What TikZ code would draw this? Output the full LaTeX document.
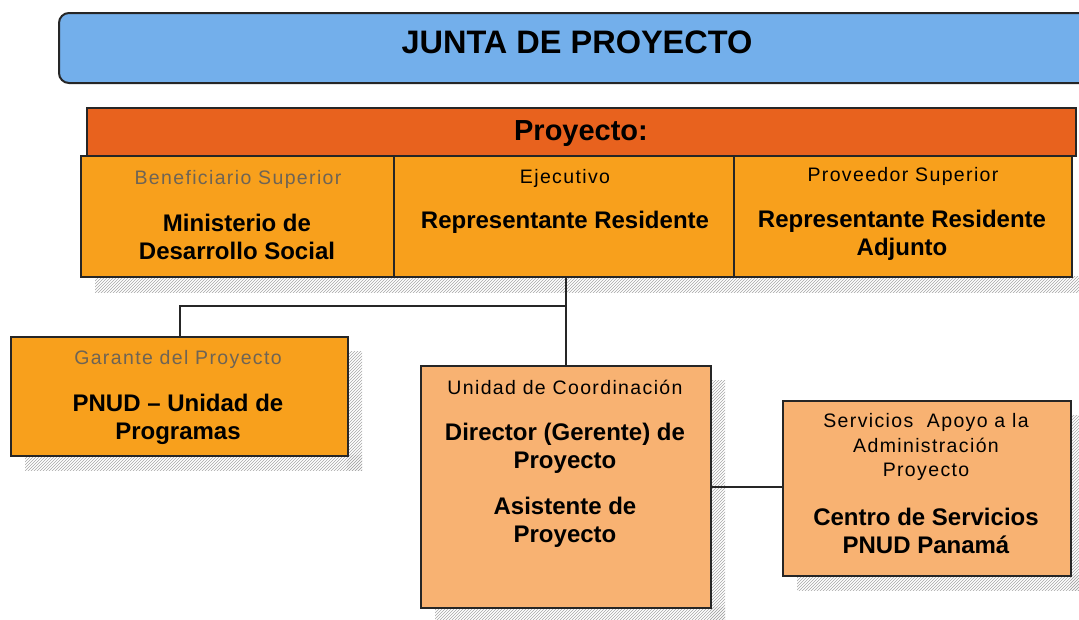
\documentclass[tikz,border=0pt]{standalone}
\usepackage{fontspec}
\setmainfont{Liberation Sans}
\usetikzlibrary{positioning, patterns}
\definecolor{juntablue}{RGB}{115,175,235}
\definecolor{proyred}{RGB}{232,98,30}
\definecolor{boxorange}{RGB}{248,160,28}
\definecolor{boxlight}{RGB}{248,178,114}
\definecolor{lblgray}{RGB}{110,100,85}
\tikzset{
  box/.style={rectangle, draw=black!85, line width=2pt, anchor=north west, inner sep=0pt},
  shade box/.style={pattern=north east lines, pattern color=black!35, draw=none},
  lbl/.style={font=\fontsize{19.5}{24.5}\selectfont\addfontfeature{LetterSpace=7}, align=center},
  strong/.style={font=\fontsize{24}{28}\selectfont\bfseries, align=center},
  link/.style={draw=black!85, line width=2pt}
}

\begin{document}
\begin{tikzpicture}[x=1pt, y=-1pt]
    \useasboundingbox (0,0) rectangle (1079,619);
    \clip (0,0) rectangle (1079,619);
    % shadows
    \fill[shade box] (95,276) rectangle (1090,292);
    \fill[shade box] (347,351) rectangle (362,470);
    \fill[shade box] (25,455) rectangle (362,470);
    \fill[shade box] (710,380) rectangle (725,625);
    \fill[shade box] (435,607) rectangle (725,625);
    \fill[shade box] (1070,415) rectangle (1090,590);
    \fill[shade box] (797,575) rectangle (1090,590);
    % board
    \node (junta) at (58,12) [box, fill=juntablue, rounded corners=10pt, minimum width=1060pt, minimum height=70pt] {};
    \node (juntatxt) at (577,42) [font=\fontsize{32.5}{32}\selectfont\bfseries] {JUNTA DE PROYECTO};
    \node (proyecto) at (86,107) [box, fill=proyred, minimum width=989pt, minimum height=48pt] {};
    \node (proytxt) at (581,134) [font=\fontsize{29}{29}\selectfont\bfseries] {Proyecto:};
    % top row
    \node (benef) at (80,155) [box, fill=boxorange, minimum width=313pt, minimum height=121pt] {};
    \node (ejec)  at (393,155) [box, fill=boxorange, minimum width=340pt, minimum height=121pt] {};
    \node (prov)  at (733,155) [box, fill=boxorange, minimum width=338pt, minimum height=121pt] {};
    \node (benefl) at (238,179) [lbl, text=lblgray] {Beneficiario Superior};
    \node (benefn) at (237,237) [strong] {Ministerio de\\Desarrollo Social};
    \node (ejecl)  at (565,178) [lbl] {Ejecutivo};
    \node (ejecn)  at (565,222) [strong] {Representante Residente};
    \node (provl)  at (903,176) [lbl] {Proveedor Superior};
    \node (provn)  at (902,235) [strong] {Representante Residente\\Adjunto};
    % lower boxes
    \node (garante)   at (10,336)  [box, fill=boxorange, minimum width=337pt, minimum height=119pt] {};
    \node (unidad)    at (420,365) [box, fill=boxlight, minimum width=290pt, minimum height=242pt] {};
    \node (servicios) at (782,400) [box, fill=boxlight, minimum width=288pt, minimum height=175pt] {};
    \node (garantel) at (178,359) [lbl, text=lblgray] {Garante del Proyecto};
    \node (garanten) at (178,419) [strong] {PNUD -- Unidad de\\Programas};
    \node (unidadl)  at (565,387) [lbl] {Unidad de Coordinación};
    \node (director) at (565,448) [strong] {Director (Gerente) de\\Proyecto};
    \node (asist)    at (565,522) [strong] {Asistente de\\Proyecto};
    \node (servl)    at (926,447) [lbl] {Servicios\ \ Apoyo a la\\Administración\\Proyecto};
    \node (servn)    at (926,531) [strong] {Centro de Servicios\\PNUD Panamá};
    % connectors
    \coordinate (split) at (565,306);
    \draw[link] (ejec.south -| unidad.north) -- (unidad.north);
    \draw[link] (split) -| (garante.north);
    \draw[link] (unidad.east) -- (servicios.west |- unidad.east);
\end{tikzpicture}
\end{document}
